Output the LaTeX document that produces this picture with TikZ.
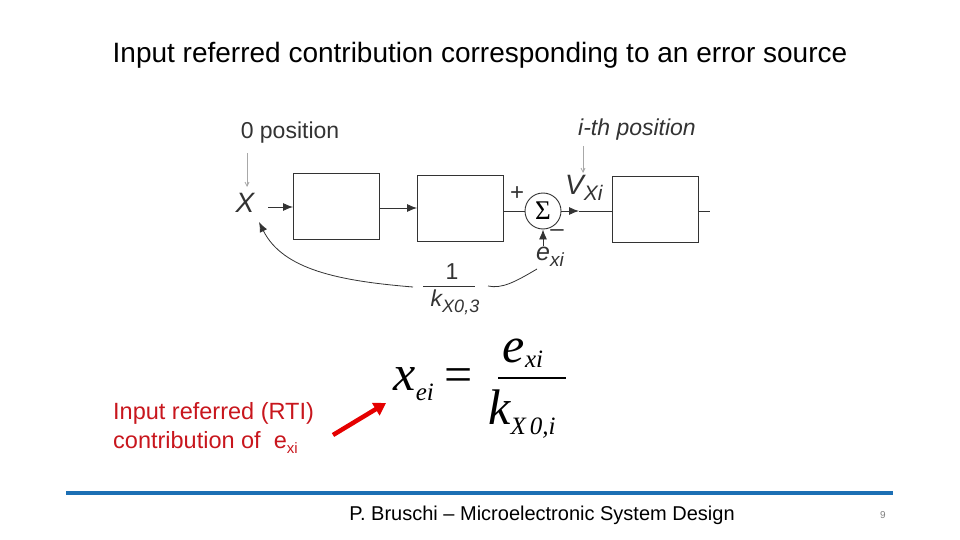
\documentclass[tikz,border=0pt]{standalone}
\usepackage{fontspec}
\setmainfont{Liberation Sans}
\newfontfamily\tms{Liberation Serif}
\usetikzlibrary{arrows.meta}
\definecolor{ink}{HTML}{333333}
\definecolor{grayarr}{HTML}{A8A8A8}
\definecolor{redtxt}{HTML}{C8161D}
\definecolor{barblue}{HTML}{1C6FB4}
\tikzset{
  blk/.style={draw=ink, line width=0.9pt, minimum width=86pt, minimum height=66pt, inner sep=0pt},
  sig/.style={draw=ink, line width=0.9pt, -{Latex[length=10pt,width=8pt]}},
  wire/.style={draw=ink, line width=0.9pt},
  garr/.style={draw=grayarr, line width=0.8pt, -{Straight Barb[length=4pt,width=4pt]}},
  lbl/.style={text=ink, inner sep=0pt, font=\fontsize{23}{26}\selectfont},
}
\begin{document}
\begin{tikzpicture}[x=1pt,y=-1pt]
\useasboundingbox (0,0) rectangle (960,540);
% title
\node[inner sep=0pt, font=\fontsize{28}{32}\selectfont] (title) at (480,55) {Input referred contribution corresponding to an error source};
% diagram
\node[lbl] (zpos) at (290,133) {0 position};
\node[lbl, font=\fontsize{23}{26}\selectfont\itshape] (ipos) at (637,130) {i-th position};
\node[lbl, font=\fontsize{28}{30}\selectfont\itshape] (X) at (245,203) {X};
\coordinate (za) at (247,153);
\coordinate (zb) at (247,187);
\draw[garr] (za) -- (zb);
\coordinate (ia) at (583,146);
\coordinate (ib) at (583,173);
\draw[garr] (ia) -- (ib);
\node[blk] (b1) at (336.5,206) {};
\node[blk] (b2) at (460.5,208) {};
\node[blk] (b3) at (655,209) {};
\node[draw=ink, line width=0.9pt, circle, minimum size=36pt, inner sep=0pt, font=\tms\fontsize{27}{28}\selectfont] (sum) at (543,211) {Σ};
\coordinate (xin) at (268,207);
\draw[sig] (xin) -- (b1.west |- xin);
\draw[sig] (b1.east |- 0,208) -- (b2.west |- 0,208);
\draw[wire] (b2.east |- sum) -- (sum.west);
\coordinate (sumo) at (579,211);
\draw[sig] (sum.east) -- (sumo);
\draw[wire] (sumo) -- (b3.west |- sumo);
\coordinate (outend) at (710,211);
\draw[wire] (b3.east |- sumo) -- (outend);
\node[lbl, font=\fontsize{24}{26}\selectfont] (plus) at (517,194) {+};
\node[lbl, font=\fontsize{24}{26}\selectfont] (minus) at (557,233) {--};
\node[lbl, font=\fontsize{28}{30}\selectfont\itshape, anchor=west] (vx) at (565,188) {V\raisebox{-6pt}{\fontsize{21}{22}\selectfont Xi}};
\node[lbl, font=\fontsize{25}{28}\selectfont\itshape, anchor=west] (ex) at (536,257) {e\raisebox{-6pt}{\fontsize{19}{20}\selectfont xi}};
\coordinate (exb) at (543,246);
\draw[sig] (exb) -- (sum.south);
% feedback fraction
\node[lbl] (one) at (452,272) {1};
\coordinate (fl) at (423,286);
\coordinate (fr) at (475,286);
\draw[wire, line width=0.8pt] (fl) -- (fr);
\node[lbl, font=\fontsize{23}{26}\selectfont\itshape] (kx) at (455,302) {k\raisebox{-6pt}{\fontsize{18}{20}\selectfont X0,3}};
\coordinate (c1a) at (537,269);
\coordinate (c1b) at (488,286);
\draw[wire, line width=0.8pt] (c1a) .. controls (515,282) and (502,289) .. (c1b);
\coordinate (c2a) at (413,287);
\coordinate (c2b) at (259,222);
\draw[sig, line width=0.8pt] (c2a) .. controls (340,281) and (283,270) .. (c2b);
% equation
\node[inner sep=0pt, anchor=base east, font=\tms\fontsize{50}{52}\selectfont\itshape] (xei) at (434,390) {x\raisebox{-10pt}{\fontsize{25}{26}\selectfont ei}};
\node[inner sep=0pt, anchor=base, font=\tms\fontsize{50}{52}\selectfont] (eq) at (459,391) {=};
\coordinate (el) at (498,378);
\coordinate (er) at (566,378);
\draw[black, line width=1.3pt] (el) -- (er);
\node[inner sep=0pt, anchor=base, font=\tms\fontsize{50}{52}\selectfont\itshape] (exi) at (523,362) {e\raisebox{-5pt}{\fontsize{25}{26}\selectfont xi}};
\node[inner sep=0pt, anchor=base, font=\tms\fontsize{50}{52}\selectfont\itshape] (kxi) at (522,424) {k\raisebox{-10pt}{\fontsize{25}{26}\selectfont X\,0,i}};
% red annotation
\node[inner sep=0pt, anchor=west, text=redtxt, font=\fontsize{23.5}{26}\selectfont] (r1) at (113,413) {Input referred (RTI)};
\node[inner sep=0pt, anchor=west, text=redtxt, font=\fontsize{23.5}{26}\selectfont] (r2) at (113,442) {contribution of\ \ e\raisebox{-5pt}{\fontsize{15}{16}\selectfont xi}};
\coordinate (ra) at (333,435);
\coordinate (rb) at (386,403);
\draw[draw=red!90!black, line width=4.5pt, -{Triangle[length=12pt,width=14pt]}] (ra) -- (rb);
% footer
\coordinate (bl) at (66,493);
\coordinate (br) at (893,493);
\draw[barblue, line width=4pt] (bl) -- (br);
\node[inner sep=0pt, font=\fontsize{20}{22}\selectfont] (foot) at (542,515) {P. Bruschi -- Microelectronic System Design};
\node[inner sep=0pt, text=gray, font=\fontsize{10}{12}\selectfont] (pg) at (883,515) {9};
\end{tikzpicture}
\end{document}
